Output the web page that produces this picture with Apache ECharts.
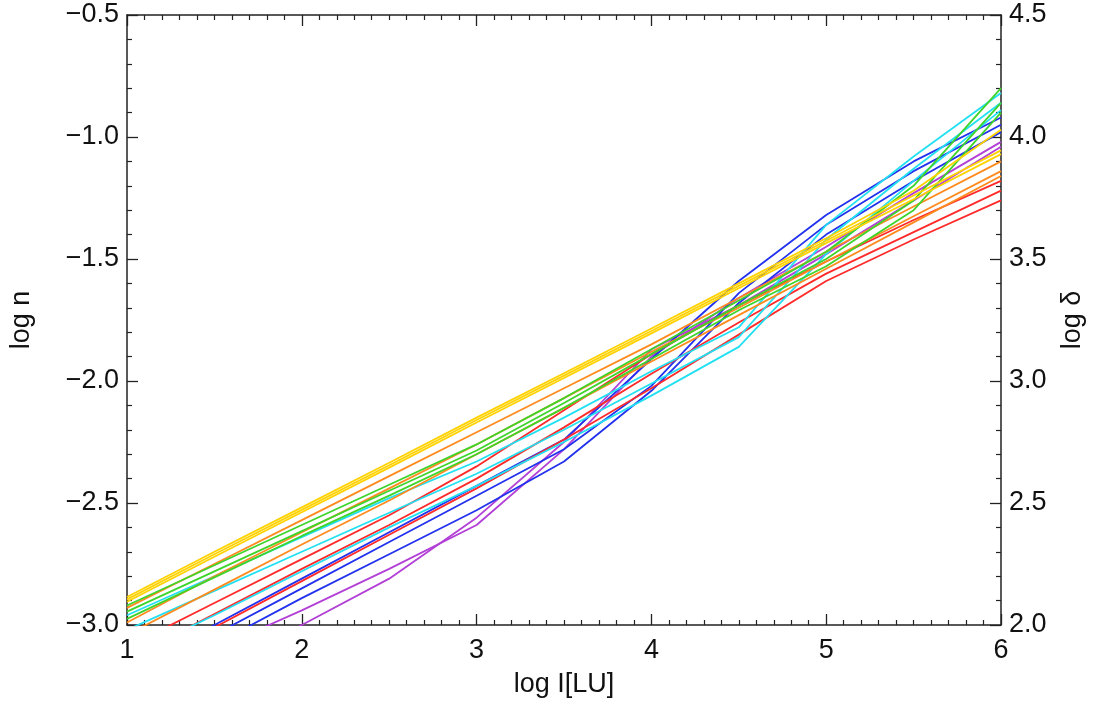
<!DOCTYPE html>
<html>
<head>
<meta charset="utf-8">
<script src="https://cdn.jsdelivr.net/npm/echarts@6/dist/echarts.min.js"></script>
<style>
html,body{margin:0;padding:0;background:#fff;}
#chart{width:1094px;height:709px;}
</style>
</head>
<body>
<div id="chart"></div>
<script>
// x positions (log I [LU]) at which each curve is sampled
const xs = [1, 1.5, 2, 2.5, 3, 3.5, 4, 4.5, 5, 5.5, 6];

// log n values per curve
const yellow1 = [-2.885, -2.70, -2.518, -2.335, -2.15, -1.968, -1.785, -1.60, -1.415, -1.22, -0.97];
const yellow2 = [-2.895, -2.71, -2.528, -2.345, -2.16, -1.978, -1.795, -1.61, -1.425, -1.24, -1.055];
const yellow3 = [-2.905, -2.72, -2.538, -2.355, -2.17, -1.988, -1.805, -1.62, -1.435, -1.255, -1.07];

const green1 = [-2.92, -2.755, -2.59, -2.425, -2.26, -2.07, -1.87, -1.67, -1.47, -1.20, -0.80];
const green2 = [-2.945, -2.78, -2.615, -2.45, -2.285, -2.09, -1.89, -1.69, -1.50, -1.26, -0.86];
const green3 = [-2.975, -2.805, -2.635, -2.47, -2.30, -2.11, -1.91, -1.71, -1.53, -1.30, -0.90];

const orange1 = [-2.93, -2.75, -2.57, -2.39, -2.21, -2.03, -1.85, -1.66, -1.47, -1.285, -1.10];
const orange2 = [-2.99, -2.80, -2.62, -2.44, -2.26, -2.07, -1.88, -1.70, -1.51, -1.325, -1.14];
const orange3 = [-3.04, -2.855, -2.67, -2.49, -2.30, -2.11, -1.92, -1.73, -1.54, -1.35, -1.16];

const red1 = [-3.09, -2.91, -2.73, -2.55, -2.35, -2.12, -1.89, -1.69, -1.51, -1.34, -1.18];
const red2 = [-3.14, -2.955, -2.77, -2.59, -2.40, -2.19, -1.97, -1.76, -1.56, -1.39, -1.22];
const red3 = [-3.20, -3.01, -2.82, -2.63, -2.44, -2.24, -2.03, -1.81, -1.59, -1.42, -1.26];

const cyan1 = [-2.96, -2.80, -2.64, -2.48, -2.33, -2.15, -1.96, -1.78, -1.36, -1.08, -0.82];
const cyan2 = [-3.02, -2.86, -2.70, -2.54, -2.38, -2.20, -2.01, -1.82, -1.42, -1.13, -0.86];
const cyan3 = [-3.13, -2.96, -2.78, -2.60, -2.43, -2.25, -2.06, -1.86, -1.48, -1.18, -0.89];

const blue1 = [-3.19, -3.00, -2.81, -2.62, -2.43, -2.24, -1.91, -1.59, -1.32, -1.10, -0.92];
const blue2 = [-3.23, -3.04, -2.85, -2.66, -2.47, -2.28, -2.02, -1.64, -1.36, -1.14, -0.95];
const blue3 = [-3.27, -3.08, -2.89, -2.71, -2.53, -2.33, -2.04, -1.68, -1.40, -1.18, -0.98];

const magenta1 = [-3.26, -3.10, -2.94, -2.77, -2.59, -2.28, -1.90, -1.66, -1.45, -1.23, -1.02];
const magenta2 = [-3.38, -3.19, -3.00, -2.81, -2.56, -2.25, -1.87, -1.69, -1.48, -1.26, -1.04];

// axis tick labels
const xTicks = [1, 2, 3, 4, 5, 6];
const yLeftTicks = [-3.0, -2.5, -2.0, -1.5, -1.0, -0.5];
const yRightTicks = [2.0, 2.5, 3.0, 3.5, 4.0, 4.5];

const curves = [
  {name: 'magenta1', data: magenta1, color: '#b23fd6'},
  {name: 'magenta2', data: magenta2, color: '#b23fd6'},
  {name: 'blue1', data: blue1, color: '#2231ee'},
  {name: 'blue2', data: blue2, color: '#2231ee'},
  {name: 'blue3', data: blue3, color: '#2231ee'},
  {name: 'red1', data: red1, color: '#ff2a2a'},
  {name: 'red2', data: red2, color: '#ff2a2a'},
  {name: 'red3', data: red3, color: '#ff2a2a'},
  {name: 'cyan1', data: cyan1, color: '#22e0f2'},
  {name: 'cyan2', data: cyan2, color: '#22e0f2'},
  {name: 'cyan3', data: cyan3, color: '#22e0f2'},
  {name: 'orange1', data: orange1, color: '#ff8a1e'},
  {name: 'orange2', data: orange2, color: '#ff8a1e'},
  {name: 'orange3', data: orange3, color: '#ff8a1e'},
  {name: 'green1', data: green1, color: '#3ed42a'},
  {name: 'green2', data: green2, color: '#3ed42a'},
  {name: 'green3', data: green3, color: '#3ed42a'},
  {name: 'yellow1', data: yellow1, color: '#ffd200'},
  {name: 'yellow2', data: yellow2, color: '#ffd200'},
  {name: 'yellow3', data: yellow3, color: '#ffd200'}
];

const FONT = "'Liberation Sans', Arial, Helvetica, sans-serif";
const txt = {fontFamily: FONT, fontSize: 27, color: '#111'};
const fmt = v => (Math.round(v * 10) / 10).toFixed(1).replace('-', '\u2212');

const axisCommon = {
  axisLine: {show: true, lineStyle: {color: '#222', width: 1.5}},
  axisTick: {show: true, inside: true, length: 11, lineStyle: {color: '#222', width: 1.3}},
  minorTick: {show: true, length: 5, lineStyle: {color: '#222', width: 1.2}},
  splitLine: {show: false},
  minorSplitLine: {show: false}
};

const chart = echarts.init(document.getElementById('chart'), null, {renderer: 'canvas'});
chart.setOption({
  backgroundColor: '#ffffff',
  animation: false,
  grid: {left: 127, right: 93, top: 15, bottom: 84, containLabel: false},
  xAxis: [
    Object.assign({}, axisCommon, {
      type: 'value', position: 'bottom', min: xTicks[0], max: xTicks[xTicks.length - 1], interval: 1,
      minorTick: Object.assign({}, axisCommon.minorTick, {splitNumber: 10}),
      axisLabel: Object.assign({}, txt, {margin: 12, formatter: v => String(v)}),
      name: 'log I[LU]', nameLocation: 'middle', nameGap: 46, nameTextStyle: Object.assign({}, txt)
    }),
    Object.assign({}, axisCommon, {
      type: 'value', position: 'top', min: xTicks[0], max: xTicks[xTicks.length - 1], interval: 1,
      minorTick: Object.assign({}, axisCommon.minorTick, {splitNumber: 10}),
      axisLabel: {show: false}
    })
  ],
  yAxis: [
    Object.assign({}, axisCommon, {
      type: 'value', position: 'left', min: yLeftTicks[0], max: yLeftTicks[yLeftTicks.length - 1], interval: 0.5,
      minorTick: Object.assign({}, axisCommon.minorTick, {splitNumber: 5}),
      axisLabel: Object.assign({}, txt, {margin: 8, formatter: fmt}),
      name: 'log n', nameLocation: 'middle', nameGap: 92, nameRotate: 90, nameTextStyle: Object.assign({}, txt)
    }),
    Object.assign({}, axisCommon, {
      type: 'value', position: 'right', min: yRightTicks[0], max: yRightTicks[yRightTicks.length - 1], interval: 0.5,
      minorTick: Object.assign({}, axisCommon.minorTick, {splitNumber: 5}),
      axisLabel: Object.assign({}, txt, {margin: 8, formatter: fmt}),
      name: 'log \u03b4', nameLocation: 'middle', nameGap: 58, nameRotate: 90, nameTextStyle: Object.assign({}, txt)
    })
  ],
  series: curves.map(c => ({
    name: c.name,
    type: 'line',
    xAxisIndex: 0,
    yAxisIndex: 0,
    data: xs.map((x, i) => [x, c.data[i]]),
    showSymbol: false,
    symbol: 'none',
    clip: true,
    lineStyle: {color: c.color, width: 1.8},
    itemStyle: {color: c.color},
    emphasis: {disabled: true}
  }))
});
</script>
</body>
</html>
